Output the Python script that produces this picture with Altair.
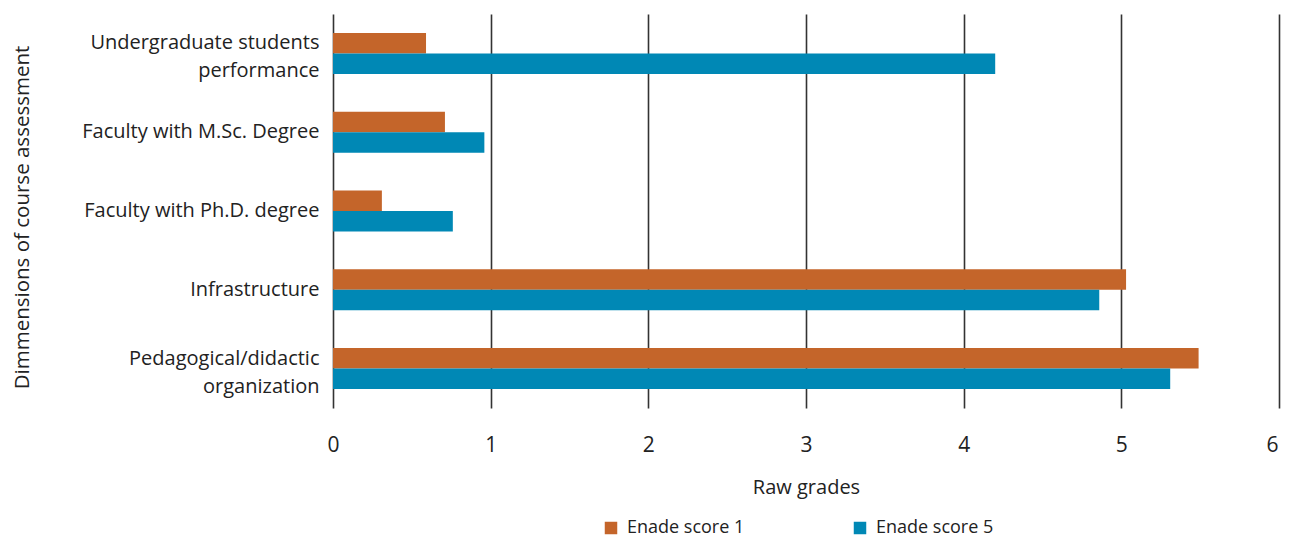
import altair as alt
import pandas as pd

categories = [
    "Undergraduate students|performance",
    "Faculty with M.Sc. Degree",
    "Faculty with Ph.D. degree",
    "Infrastructure",
    "Pedagogical/didactic|organization",
]
series = ["Enade score 1", "Enade score 5"]
score1 = [0.59, 0.71, 0.31, 5.03, 5.49]
score5 = [4.20, 0.96, 0.76, 4.86, 5.31]
colors = ["#C4652A", "#0088B5"]
x_ticks = [0, 1, 2, 3, 4, 5, 6]

rows = []
for c, a, b in zip(categories, score1, score5):
    rows.append({"cat": c, "series": series[0], "value": a})
    rows.append({"cat": c, "series": series[1], "value": b})
df = pd.DataFrame(rows)

FONT = "Open Sans"
TXT = "#222222"

y_axis = alt.Axis(
    title="Dimmensions of course assessment",
    labelExpr="split(datum.label, '|')",
    labelLineHeight=28, labelFontSize=20, labelColor=TXT,
    labelFont=FONT, labelPadding=14, labelLimit=400,
    labelOffset={"condition": {"test": "indexof(datum.value, '|') >= 0", "value": -10}, "value": 0},
    domain=False, ticks=False, grid=False,
    titleFontSize=20.5, titleFont=FONT, titleColor=TXT,
    titleFontWeight="normal", titleX=-311, titleY=203,
    titleAngle=-90, titleAlign="center", titleBaseline="middle",
)

x_axis = alt.Axis(
    title="Raw grades", values=x_ticks,
    format="d", grid=True, gridColor="#333333", gridWidth=1.6,
    domain=False, ticks=False, labelPadding=26, labelFlush=False,
    labelAlign={"condition": {"test": "datum.value >= 6", "value": "right"}, "value": "center"},
    labelOffset={"condition": {"test": "datum.value >= 6", "value": -1}, "value": 0},
    labelFontSize=21, labelColor=TXT, labelFont=FONT,
    titleFontSize=20, titleFont=FONT, titleColor=TXT,
    titleFontWeight="normal", titlePadding=22,
)

chart = alt.Chart(df).mark_bar().encode(
    x=alt.X("value:Q", scale=alt.Scale(domain=[0, 6], nice=False), axis=x_axis),
    y=alt.Y("cat:N", sort=categories,
            scale=alt.Scale(paddingInner=0.48, paddingOuter=0.24),
            axis=y_axis),
    yOffset=alt.YOffset("series:N", sort=series, scale=alt.Scale(paddingInner=0, paddingOuter=0)),
    color=alt.Color("series:N", sort=series,
                    scale=alt.Scale(domain=series, range=colors),
                    legend=alt.Legend(title=None, orient="none", legendX=269, legendY=505,
                                      direction="horizontal", columns=2, columnPadding=106,
                                      symbolType="square", symbolSize=156,
                                      symbolStrokeWidth=0,
                                      labelFontSize=18, labelFont=FONT, labelColor=TXT,
                                      labelOffset=7)),
).properties(
    width=946, height=394,
    padding={"left": 325, "top": 6, "right": 2, "bottom": 129},
    autosize=alt.AutoSizeParams(type="none"),
).configure_view(stroke=None)

chart.save("out.html", embed_options={"renderer": "svg", "actions": False})
